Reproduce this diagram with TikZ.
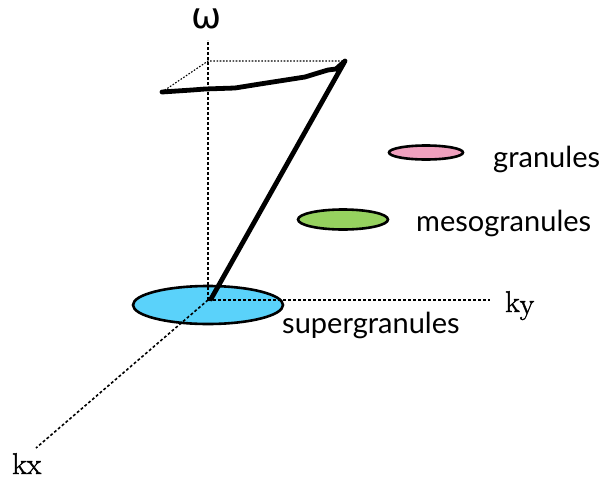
\documentclass[tikz,border=0pt]{standalone}
\usepackage{fontspec}
\setmainfont{Lato}
\newfontfamily\axisfont[FakeBold=1.5]{Latin Modern Roman}
\newfontfamily\omegafont{DejaVu Sans}
\begin{document}
\begin{tikzpicture}[x=1pt,y=-1pt,
  axisline/.style={line width=1.6pt,dash pattern=on 2.8pt off 2.2pt},
  boxline/.style={line width=1.1pt,dash pattern=on 1.6pt off 1.6pt},
  blob/.style={draw=black,line width=2.6pt},
  lbl/.style={font=\fontsize{29}{31}\selectfont,anchor=west,inner sep=0pt},
  axlbl/.style={font=\axisfont\fontsize{30}{32}\selectfont,inner sep=0pt}]
\useasboundingbox (0,0) rectangle (603,480);
% axes
\coordinate (O) at (208,300);
\coordinate (wtop) at (208,40);
\coordinate (yend) at (490,300);
\coordinate (xend) at (36,448);
\fill[fill={rgb,255:red,90;green,210;blue,250}] (208,305) ellipse [x radius=75,y radius=19];
\draw[axisline] (O) -- (wtop);
\draw[axisline] (O) -- (yend);
\draw[axisline] (O) -- (xend);
\draw[blob] (208,305) ellipse [x radius=75,y radius=19];
\node[font=\omegafont\fontsize{36}{38}\selectfont,inner sep=0pt,anchor=base] (w) at (207,28) {ω};
\node[axlbl,anchor=base west] (ky) at (505,312) {k\raisebox{-0.15ex}{y}};
\node[axlbl,anchor=base west] (kx) at (12,474) {kx};
% top box
\coordinate (t1) at (208,61);
\coordinate (t2) at (345,61);
\coordinate (t3) at (162,92);
\draw[boxline] (t3) -- (t1) -- (t2);
% thick curve
\draw[line width=4.8pt,line join=round,line cap=round]
  (162,92) -- (192,90) -- (205,89) -- (235,88) -- (260,84) -- (305,77) -- (318,73) -- (328,70) -- (336,69) -- (345,61) -- (211,299);
% other ellipses
\draw[blob,fill={rgb,255:red,240;green,160;blue,190}] (426,152.5) ellipse [x radius=37,y radius=7];
\draw[blob,fill={rgb,255:red,150;green,210;blue,95}] (343,219.5) ellipse [x radius=45,y radius=10];
\node[lbl,anchor=base west] (g) at (493,167) {granules};
\node[lbl,anchor=base west] (m) at (416,231) {mesogranules};
\node[lbl,anchor=base west] (s) at (282,333) {supergranules};
\end{tikzpicture}
\end{document}
